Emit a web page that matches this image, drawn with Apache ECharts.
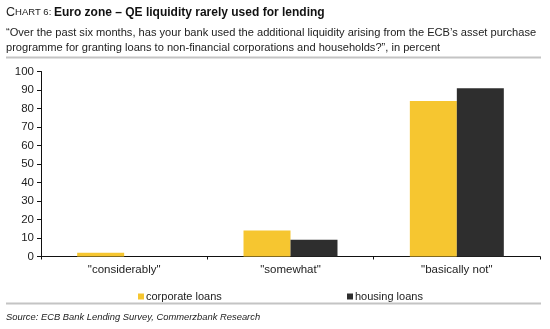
<!DOCTYPE html>
<html>
<head>
<meta charset="utf-8">
<script src="https://cdn.jsdelivr.net/npm/echarts@6/dist/echarts.min.js"></script>
<style>
  html, body { margin: 0; padding: 0; background: #fff; }
  #chart { width: 550px; height: 329px; }
</style>
</head>
<body>
<div id="chart"></div>
<script>
// Survey answers (x-axis categories)
var categories = ['"considerably"', '"somewhat"', '"basically not"'];
// Share of banks, in percent
var corporateLoans = [2, 14, 84];
var housingLoans = [0, 9, 91];
var seriesNames = ['corporate loans', 'housing loans'];
var yTicks = { min: 0, max: 100, interval: 10 };

var FONT = 'Liberation Sans, Arial, sans-serif';
var chart = echarts.init(document.getElementById('chart'), null, { renderer: 'canvas' });

chart.setOption({
  backgroundColor: '#fff',
  animation: false,
  textStyle: { fontFamily: FONT },
  grid: { left: 41, right: 10, top: 71.5, bottom: 72.5, containLabel: false },
  legend: [
    {
      data: [seriesNames[0]], left: 133, top: 286,
      itemWidth: 6, itemHeight: 6, itemGap: 0, icon: 'rect',
      textStyle: { fontFamily: FONT, fontSize: 11, color: '#222', padding: [0, 0, 0, -3] }
    },
    {
      data: [seriesNames[1]], left: 342, top: 286,
      itemWidth: 6, itemHeight: 6, itemGap: 0, icon: 'rect',
      textStyle: { fontFamily: FONT, fontSize: 11, color: '#222', padding: [0, 0, 0, -3] }
    }
  ],
  xAxis: {
    type: 'category',
    data: categories,
    axisLine: { lineStyle: { color: '#111', width: 1 } },
    axisTick: { show: true, length: 3, inside: false, lineStyle: { color: '#111' } },
    axisLabel: { fontFamily: FONT, fontSize: 11.5, color: '#222', margin: 7 }
  },
  yAxis: {
    type: 'value',
    min: yTicks.min, max: yTicks.max, interval: yTicks.interval,
    axisLine: { show: true, lineStyle: { color: '#111', width: 1 } },
    axisTick: { show: true, length: 4, lineStyle: { color: '#111' } },
    splitLine: { show: false },
    axisLabel: { fontFamily: FONT, fontSize: 11.5, color: '#222', margin: 7 }
  },
  series: [
    {
      name: seriesNames[0], type: 'bar', data: corporateLoans,
      itemStyle: { color: '#F6C630' },
      barGap: '0%', barCategoryGap: '43.5%'
    },
    {
      name: seriesNames[1], type: 'bar', data: housingLoans,
      itemStyle: { color: '#2E2E2E' },
      barGap: '0%', barCategoryGap: '43.5%'
    }
  ],
  graphic: [
    {
      type: 'text', left: 6, top: 6,
      style: {
        text: '{c|C}{s|HART 6: }{b|Euro zone – QE liquidity rarely used for lending}',
        rich: {
          c: { fontFamily: FONT, fontSize: 12.5, fill: '#222' },
          s: { fontFamily: FONT, fontSize: 9.5, fill: '#222' },
          b: { fontFamily: FONT, fontSize: 12, fontWeight: 'bold', fill: '#111' }
        }
      }
    },
    {
      type: 'text', left: 6, top: 25,
      style: {
        text: '“Over the past six months, has your bank used the additional liquidity arising from the ECB’s asset purchase\nprogramme for granting loans to non-financial corporations and households?”, in percent',
        fontFamily: FONT, fontSize: 11.1, lineHeight: 15, fill: '#222'
      }
    },
    {
      type: 'rect', shape: { x: 6, y: 56.5, width: 535, height: 2 },
      style: { fill: '#c4c4c4' }
    },
    {
      type: 'rect', shape: { x: 6, y: 302.5, width: 535, height: 2 },
      style: { fill: '#c4c4c4' }
    },
    {
      type: 'text', left: 6, top: 313,
      style: {
        text: 'Source: ECB Bank Lending Survey, Commerzbank Research',
        fontFamily: FONT, fontSize: 9.4, fontStyle: 'italic', fill: '#222'
      }
    }
  ]
});
</script>
</body>
</html>
